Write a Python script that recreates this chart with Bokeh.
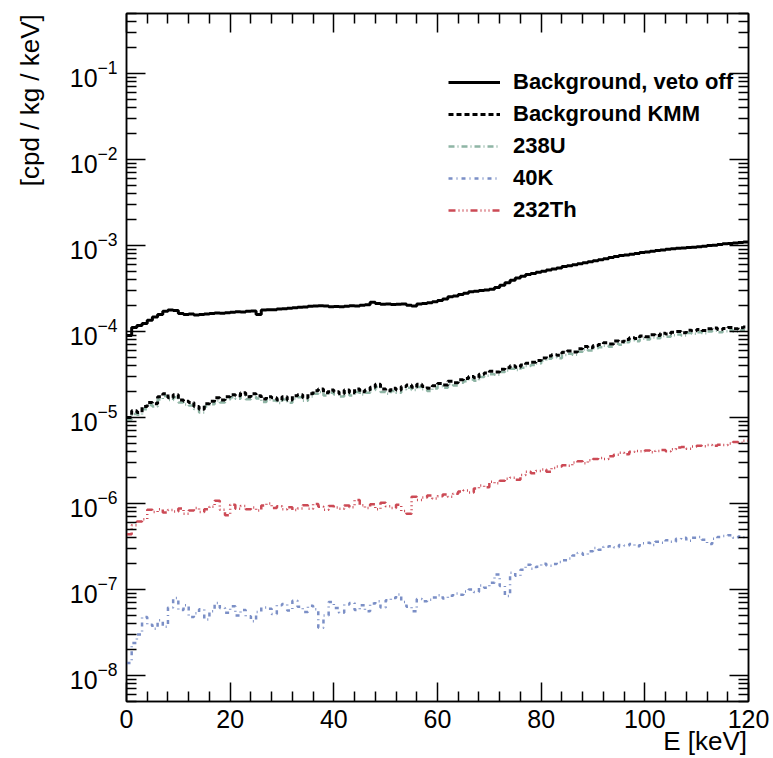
import numpy as np
from bokeh.plotting import figure
from bokeh.models import (LogAxis, LinearAxis, Range1d, Legend, LegendItem,
                          FixedTicker, CustomJSTickFormatter)
from bokeh.embed import file_html
from bokeh.resources import INLINE

# ---------------- data (1 keV bins, 0..120 keV) ----------------
bin_edges_start = 0
bin_width = 1
n_bins = 120

bkg_veto_off = [
    9.0e-5, 1.12e-4, 1.18e-4, 1.24e-4, 1.36e-4, 1.48e-4, 1.58e-4, 1.72e-4, 1.78e-4, 1.76e-4,
    1.62e-4, 1.58e-4, 1.60e-4, 1.56e-4, 1.58e-4, 1.60e-4, 1.62e-4, 1.65e-4, 1.63e-4, 1.66e-4,
    1.68e-4, 1.70e-4, 1.69e-4, 1.72e-4, 1.74e-4, 1.58e-4, 1.78e-4, 1.80e-4, 1.79e-4, 1.83e-4,
    1.84e-4, 1.87e-4, 1.90e-4, 1.92e-4, 1.93e-4, 1.97e-4, 1.98e-4, 2.00e-4, 1.98e-4, 1.95e-4,
    1.96e-4, 1.94e-4, 1.97e-4, 2.00e-4, 1.99e-4, 2.02e-4, 2.05e-4, 2.20e-4, 2.12e-4, 2.08e-4,
    2.10e-4, 2.06e-4, 2.08e-4, 2.10e-4, 2.02e-4, 1.98e-4, 2.10e-4, 2.12e-4, 2.16e-4, 2.22e-4,
    2.30e-4, 2.40e-4, 2.55e-4, 2.60e-4, 2.70e-4, 2.80e-4, 2.90e-4, 2.95e-4, 3.00e-4, 3.05e-4,
    3.10e-4, 3.25e-4, 3.45e-4, 3.70e-4, 3.95e-4, 4.20e-4, 4.40e-4, 4.60e-4, 4.75e-4, 4.90e-4,
    5.05e-4, 5.20e-4, 5.35e-4, 5.50e-4, 5.70e-4, 5.85e-4, 6.00e-4, 6.15e-4, 6.30e-4, 6.50e-4,
    6.65e-4, 6.85e-4, 7.05e-4, 7.25e-4, 7.45e-4, 7.65e-4, 7.80e-4, 7.95e-4, 8.10e-4, 8.30e-4,
    8.45e-4, 8.60e-4, 8.75e-4, 8.90e-4, 9.05e-4, 9.20e-4, 9.30e-4, 9.40e-4, 9.50e-4, 9.60e-4,
    9.70e-4, 9.85e-4, 1.00e-3, 1.01e-3, 1.03e-3, 1.05e-3, 1.06e-3, 1.07e-3, 1.09e-3, 1.10e-3,
]

bkg_kmm = [
    1.00e-5, 1.20e-5, 1.15e-5, 1.35e-5, 1.50e-5, 1.45e-5, 1.75e-5, 1.90e-5, 1.70e-5, 1.85e-5,
    1.60e-5, 1.55e-5, 1.50e-5, 1.35e-5, 1.25e-5, 1.45e-5, 1.55e-5, 1.70e-5, 1.60e-5, 1.75e-5,
    1.85e-5, 1.80e-5, 1.95e-5, 1.75e-5, 1.90e-5, 1.80e-5, 1.65e-5, 1.75e-5, 1.70e-5, 1.60e-5,
    1.75e-5, 1.60e-5, 1.80e-5, 1.85e-5, 1.70e-5, 1.90e-5, 2.05e-5, 2.15e-5, 1.95e-5, 2.10e-5,
    2.00e-5, 1.90e-5, 2.10e-5, 1.95e-5, 2.15e-5, 2.00e-5, 2.10e-5, 2.25e-5, 2.45e-5, 2.15e-5,
    2.05e-5, 2.20e-5, 2.10e-5, 2.30e-5, 2.40e-5, 2.25e-5, 2.45e-5, 2.30e-5, 2.20e-5, 2.35e-5,
    2.50e-5, 2.40e-5, 2.65e-5, 2.55e-5, 2.75e-5, 2.85e-5, 3.00e-5, 2.90e-5, 3.20e-5, 3.30e-5,
    3.45e-5, 3.40e-5, 3.65e-5, 3.80e-5, 4.00e-5, 3.85e-5, 4.10e-5, 4.30e-5, 4.40e-5, 4.60e-5,
    4.95e-5, 5.20e-5, 5.40e-5, 5.30e-5, 5.75e-5, 5.95e-5, 5.80e-5, 6.30e-5, 6.70e-5, 6.50e-5,
    6.90e-5, 7.10e-5, 7.40e-5, 7.20e-5, 7.80e-5, 7.60e-5, 8.10e-5, 8.50e-5, 8.30e-5, 8.90e-5,
    8.70e-5, 9.20e-5, 9.00e-5, 9.60e-5, 9.40e-5, 9.80e-5, 1.00e-4, 9.70e-5, 1.04e-4, 1.02e-4,
    1.06e-4, 1.03e-4, 1.08e-4, 1.10e-4, 1.06e-4, 1.09e-4, 1.12e-4, 1.08e-4, 1.11e-4, 1.13e-4,
]

u238 = [
    9.5e-6, 1.10e-5, 1.08e-5, 1.25e-5, 1.40e-5, 1.35e-5, 1.62e-5, 1.78e-5, 1.60e-5, 1.72e-5,
    1.50e-5, 1.42e-5, 1.38e-5, 1.26e-5, 1.15e-5, 1.35e-5, 1.43e-5, 1.58e-5, 1.50e-5, 1.62e-5,
    1.72e-5, 1.66e-5, 1.80e-5, 1.63e-5, 1.76e-5, 1.67e-5, 1.52e-5, 1.62e-5, 1.58e-5, 1.48e-5,
    1.62e-5, 1.49e-5, 1.67e-5, 1.72e-5, 1.57e-5, 1.76e-5, 1.90e-5, 1.99e-5, 1.81e-5, 1.95e-5,
    1.86e-5, 1.76e-5, 1.95e-5, 1.81e-5, 1.99e-5, 1.86e-5, 1.95e-5, 2.09e-5, 2.27e-5, 1.99e-5,
    1.90e-5, 2.04e-5, 1.95e-5, 2.13e-5, 2.22e-5, 2.09e-5, 2.27e-5, 2.13e-5, 2.04e-5, 2.18e-5,
    2.32e-5, 2.22e-5, 2.46e-5, 2.36e-5, 2.55e-5, 2.64e-5, 2.78e-5, 2.69e-5, 2.97e-5, 3.06e-5,
    3.20e-5, 3.15e-5, 3.38e-5, 3.52e-5, 3.71e-5, 3.57e-5, 3.80e-5, 3.99e-5, 4.08e-5, 4.27e-5,
    4.59e-5, 4.82e-5, 5.01e-5, 4.91e-5, 5.33e-5, 5.52e-5, 5.38e-5, 5.84e-5, 6.21e-5, 6.03e-5,
    6.40e-5, 6.58e-5, 6.86e-5, 6.68e-5, 7.23e-5, 7.05e-5, 7.51e-5, 7.88e-5, 7.70e-5, 8.25e-5,
    8.07e-5, 8.53e-5, 8.35e-5, 8.90e-5, 8.72e-5, 9.09e-5, 9.27e-5, 9.00e-5, 9.64e-5, 9.46e-5,
    9.83e-5, 9.55e-5, 1.00e-4, 1.02e-4, 9.83e-5, 1.01e-4, 1.04e-4, 1.00e-4, 1.03e-4, 1.05e-4,
]

k40 = [
    1.4e-8, 2.4e-8, 3.0e-8, 4.8e-8, 3.9e-8, 3.5e-8, 4.4e-8, 3.7e-8, 6.2e-8, 8.0e-8,
    5.8e-8, 6.6e-8, 4.8e-8, 5.3e-8, 5.9e-8, 4.5e-8, 5.6e-8, 7.0e-8, 6.1e-8, 5.4e-8,
    6.4e-8, 5.0e-8, 5.8e-8, 4.9e-8, 4.3e-8, 5.5e-8, 6.2e-8, 6.0e-8, 5.2e-8, 6.6e-8,
    6.8e-8, 5.7e-8, 7.4e-8, 6.3e-8, 5.5e-8, 6.5e-8, 5.9e-8, 3.6e-8, 5.0e-8, 7.2e-8,
    6.1e-8, 5.4e-8, 6.7e-8, 7.0e-8, 5.8e-8, 6.6e-8, 5.6e-8, 6.9e-8, 7.3e-8, 6.2e-8,
    7.5e-8, 8.0e-8, 8.8e-8, 7.2e-8, 6.3e-8, 5.6e-8, 7.8e-8, 7.3e-8, 7.6e-8, 8.1e-8,
    8.6e-8, 7.9e-8, 8.5e-8, 9.0e-8, 8.7e-8, 9.5e-8, 1.00e-7, 9.4e-8, 1.12e-7, 1.05e-7,
    1.20e-7, 1.50e-7, 1.10e-7, 8.4e-8, 1.57e-7, 1.45e-7, 1.70e-7, 1.95e-7, 1.75e-7, 1.85e-7,
    2.00e-7, 1.90e-7, 1.98e-7, 2.10e-7, 2.20e-7, 2.30e-7, 2.50e-7, 2.67e-7, 2.55e-7, 2.80e-7,
    3.05e-7, 2.90e-7, 3.15e-7, 3.20e-7, 3.10e-7, 3.30e-7, 3.25e-7, 3.40e-7, 3.20e-7, 3.45e-7,
    3.50e-7, 3.30e-7, 3.60e-7, 3.50e-7, 3.75e-7, 3.60e-7, 3.90e-7, 4.00e-7, 3.70e-7, 4.00e-7,
    4.10e-7, 3.80e-7, 3.40e-7, 3.90e-7, 4.10e-7, 4.20e-7, 4.30e-7, 4.00e-7, 4.15e-7, 4.05e-7,
]

th232 = [
    4.4e-7, 5.6e-7, 6.2e-7, 6.6e-7, 8.5e-7, 8.0e-7, 8.6e-7, 7.9e-7, 8.4e-7, 8.1e-7,
    8.8e-7, 7.6e-7, 8.3e-7, 8.9e-7, 8.0e-7, 8.6e-7, 9.2e-7, 1.08e-6, 8.5e-7, 7.3e-7,
    9.7e-7, 8.7e-7, 9.4e-7, 8.6e-7, 9.0e-7, 8.3e-7, 9.5e-7, 1.00e-6, 8.9e-7, 9.3e-7,
    8.6e-7, 9.1e-7, 8.4e-7, 8.8e-7, 9.6e-7, 8.7e-7, 9.9e-7, 9.2e-7, 8.5e-7, 9.4e-7,
    9.0e-7, 8.7e-7, 9.5e-7, 9.1e-7, 1.10e-6, 9.6e-7, 8.9e-7, 9.8e-7, 8.6e-7, 1.02e-6,
    9.3e-7, 8.9e-7, 9.7e-7, 8.2e-7, 7.6e-7, 1.20e-6, 1.10e-6, 1.18e-6, 1.24e-6, 1.15e-6,
    1.22e-6, 1.28e-6, 1.20e-6, 1.30e-6, 1.38e-6, 1.42e-6, 1.35e-6, 1.50e-6, 1.62e-6, 1.55e-6,
    1.80e-6, 1.72e-6, 1.85e-6, 1.95e-6, 2.00e-6, 1.90e-6, 2.15e-6, 2.35e-6, 2.25e-6, 2.40e-6,
    2.50e-6, 2.35e-6, 2.60e-6, 2.70e-6, 2.80e-6, 2.75e-6, 3.00e-6, 3.10e-6, 2.95e-6, 3.20e-6,
    3.30e-6, 3.40e-6, 3.30e-6, 3.55e-6, 3.70e-6, 3.90e-6, 3.75e-6, 4.00e-6, 4.10e-6, 4.05e-6,
    4.15e-6, 3.95e-6, 4.10e-6, 4.20e-6, 4.05e-6, 4.30e-6, 4.50e-6, 4.55e-6, 4.35e-6, 4.60e-6,
    4.70e-6, 4.65e-6, 4.80e-6, 4.70e-6, 4.85e-6, 4.80e-6, 5.00e-6, 5.20e-6, 5.10e-6, 5.40e-6,
]

x_major_ticks = [0, 20, 40, 60, 80, 100, 120]
y_major_ticks = [1e-8, 1e-7, 1e-6, 1e-5, 1e-4, 1e-3, 1e-2, 1e-1]

series_labels = ["Background, veto off", "Background KMM", "238U", "40K", "232Th"]
x_label = "E [keV]"
y_label = "[cpd / kg / keV]"

# ---------------- helpers ----------------
edges = bin_edges_start + bin_width * np.arange(n_bins + 1)


def step_xy(vals):
    xs = np.repeat(edges, 2)[1:-1]
    ys = np.repeat(np.asarray(vals, dtype=float), 2)
    return xs, ys


FONT = "Liberation Sans"
NBSP = "\u00a0"

p = figure(width=773, height=758, y_axis_type="log",
           x_range=Range1d(0, 120), y_range=Range1d(5e-9, 0.5),
           output_backend="svg", toolbar_location=None,
           min_border_left=126, min_border_right=25,
           min_border_top=13, min_border_bottom=56)
p.grid.visible = False
p.outline_line_color = "black"
p.outline_line_width = 1.5
p.background_fill_color = "white"
p.border_fill_color = "white"

x_minor = [v for v in range(0, 121, 4) if v % 20 != 0]
y_minor = []
for e in range(-9, 0):
    for k in range(2, 10):
        v = k * 10.0 ** e
        if 5e-9 <= v <= 0.5:
            y_minor.append(v)

xt = FixedTicker(ticks=x_major_ticks, minor_ticks=x_minor)
yt = FixedTicker(ticks=y_major_ticks, minor_ticks=y_minor)


def style_axis(ax, major_len, minor_len):
    ax.major_tick_in = major_len
    ax.major_tick_out = 0
    ax.minor_tick_in = minor_len
    ax.minor_tick_out = 0
    ax.axis_line_width = 1.5
    ax.major_tick_line_width = 1.5
    ax.minor_tick_line_width = 1.5
    ax.axis_line_color = "black"
    ax.major_tick_line_color = "black"
    ax.minor_tick_line_color = "black"


xa = p.xaxis[0]
xa.ticker = xt
style_axis(xa, 19, 10)
xa.major_label_text_font = FONT
xa.major_label_text_font_size = "25px"
xa.major_label_text_color = "black"
xa.major_label_standoff = 8

ya = p.yaxis[0]
ya.ticker = yt
style_axis(ya, 19, 10)
ya.major_label_text_font = FONT
ya.major_label_text_font_size = "25px"
ya.major_label_text_color = "black"
ya.major_label_standoff = 9

# axis titles: centred on the frame end; trailing no-break spaces of equal
# width shift the visible text so that it ends at the frame corner (ROOT style)
xa.axis_label = x_label + NBSP * 12
xa.axis_label_align = "end"
xa.axis_label_standoff = -5
xa.axis_label_text_font = FONT
xa.axis_label_text_font_size = "26px"
xa.axis_label_text_font_style = "normal"
xa.axis_label_text_color = "black"

ya.axis_label = y_label + NBSP * 24
ya.axis_label_align = "end"
ya.axis_label_standoff = 22
ya.axis_label_text_font = FONT
ya.axis_label_text_font_size = "26px"
ya.axis_label_text_font_style = "normal"
ya.axis_label_text_color = "black"

blank = CustomJSTickFormatter(code="return ''")
top = LinearAxis(ticker=xt, formatter=blank)
style_axis(top, 19, 10)
top.major_label_standoff = 0
p.add_layout(top, "above")
right = LogAxis(ticker=yt, formatter=blank)
style_axis(right, 19, 10)
right.major_label_standoff = 0
p.add_layout(right, "right")

# ---------------- curves ----------------
xs, ys = step_xy(u238)
r_u = p.line(xs, ys, line_color="#8fb5a5", line_width=2.5, line_dash="6 3 1 3")
xs, ys = step_xy(bkg_kmm)
r_kmm = p.line(xs, ys, line_color="black", line_width=3, line_dash="5 3")
xs, ys = step_xy(k40)
r_k = p.line(xs, ys, line_color="#7b8fc6", line_width=2.5, line_dash="4 4 1 4")
xs, ys = step_xy(th232)
r_th = p.line(xs, ys, line_color="#cc4a55", line_width=2.5, line_dash="7 3 1 3 1 3 1 3")
xs, ys = step_xy(bkg_veto_off)
r_bkg = p.line(xs, ys, line_color="black", line_width=3)

legend = Legend(items=[
    LegendItem(label=series_labels[0], renderers=[r_bkg]),
    LegendItem(label=series_labels[1], renderers=[r_kmm]),
    LegendItem(label=series_labels[2], renderers=[r_u]),
    LegendItem(label=series_labels[3], renderers=[r_k]),
    LegendItem(label=series_labels[4], renderers=[r_th]),
], location=(322, 475))
legend.label_text_font = FONT
legend.label_text_font_style = "bold"
legend.label_text_font_size = "22px"
legend.label_text_color = "black"
legend.label_standoff = 13
legend.glyph_width = 52
legend.glyph_height = 32
legend.label_height = 32
legend.spacing = 0
legend.padding = 0
legend.margin = 0
legend.border_line_color = None
legend.background_fill_alpha = 0
p.add_layout(legend, "center")

open("out.html", "w").write(file_html(p, INLINE))
